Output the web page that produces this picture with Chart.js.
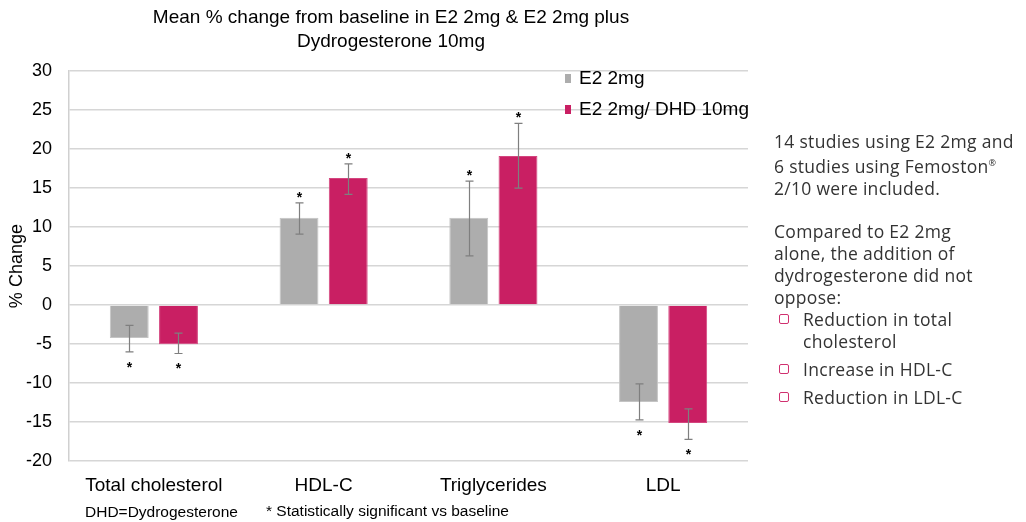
<!DOCTYPE html>
<html>
<head>
<meta charset="utf-8">
<script src="https://cdn.jsdelivr.net/npm/chart.js@4.4.1/dist/chart.umd.min.js"></script>
<style>
    body { margin: 0; background: #fff; }
    #wrap { position: relative; width: 1026px; height: 522px; overflow: hidden; }
    #chart { position: absolute; left: 0; top: 0; }
    .side { position: absolute; left: 774px; top: 130px; width: 260px; font-family: "Open Sans", sans-serif; font-size: 17.5px; letter-spacing: 0.3px; line-height: 22px; color: #333; white-space: nowrap; }
    .side p { margin: 0 0 21px 0; }
    .side ul { list-style: none; margin: -21px 0 0 0; padding: 0; }
    .side li { position: relative; padding-left: 29px; margin-bottom: 6px; }
    .side .box { position: absolute; left: 5px; top: 6px; width: 8px; height: 8px; border: 1.6px solid #d0306f; border-radius: 2px; }
    .note { position: absolute; top: 502px; font-family: "Liberation Sans", Arial, sans-serif; font-size: 15.5px; color: #000; }
</style>
</head>
<body>
<div id="wrap">
    <canvas id="chart" width="782" height="522"></canvas>
    <div class="side">
        <p>14 studies using E2 2mg and<br>6 studies using Femoston<sup style="font-size:9px">®</sup><br>2/10 were included.</p>
        <p>Compared to E2 2mg<br>alone, the addition of<br>dydrogesterone did not<br>oppose:</p>
        <ul>
            <li><span class="box"></span>Reduction in total<br>cholesterol</li>
            <li><span class="box"></span>Increase in HDL-C</li>
            <li><span class="box"></span>Reduction in LDL-C</li>
        </ul>
    </div>
    <div class="note" style="left:85px; top:503px">DHD=Dydrogesterone</div>
    <div class="note" style="left:266px">* Statistically significant vs baseline</div>
</div>
<script>
// Chart data
const categories = ["Total cholesterol", "HDL-C", "Triglycerides", "LDL"];
const seriesNames = ["E2 2mg", "E2 2mg/ DHD 10mg"];
const e2Values = [-4.2, 11.2, 11.2, -12.4];
const dhdValues = [-5.0, 16.3, 19.1, -15.1];
const e2ErrLow = [-6.0, 9.1, 6.3, -14.7];
const e2ErrHigh = [-2.6, 13.1, 15.9, -10.1];
const dhdErrLow = [-6.2, 14.2, 15.0, -17.2];
const dhdErrHigh = [-3.6, 18.1, 23.3, -13.3];
const yMin = -20, yMax = 30, yStep = 5;

const errLows = [e2ErrLow, dhdErrLow];
const errHighs = [e2ErrHigh, dhdErrHigh];

// error bars + significance stars
const errorBarPlugin = {
    id: "errorBars",
    afterDatasetsDraw(chart) {
        const ctx = chart.ctx;
        const y = chart.scales.y;
        ctx.save();
        chart.data.datasets.forEach((ds, di) => {
            const meta = chart.getDatasetMeta(di);
            meta.data.forEach((bar, i) => {
                const x = Math.round(bar.x) + 0.5;
                const lo = y.getPixelForValue(errLows[di][i]);
                const hi = y.getPixelForValue(errHighs[di][i]);
                ctx.strokeStyle = "#7f7f7f";
                ctx.lineWidth = 1.2;
                ctx.beginPath();
                ctx.moveTo(x, lo); ctx.lineTo(x, hi);
                ctx.moveTo(x - 4, lo); ctx.lineTo(x + 4, lo);
                ctx.moveTo(x - 4, hi); ctx.lineTo(x + 4, hi);
                ctx.stroke();
                ctx.fillStyle = "#000";
                ctx.font = "bold 14px 'Liberation Sans', Arial";
                ctx.textAlign = "center";
                ctx.textBaseline = "middle";
                const starY = ds.data[i] >= 0 ? hi - 5 : lo + 16;
                ctx.fillText("*", x, starY);
            });
        });
        ctx.restore();
    }
};

// legend drawn inside the plot area, top right
const innerLegendPlugin = {
    id: "innerLegend",
    afterDraw(chart) {
        const ctx = chart.ctx;
        const area = chart.chartArea;
        ctx.save();
        ctx.font = "19px 'Liberation Sans', Arial";
        ctx.textBaseline = "middle";
        ctx.textAlign = "left";
        chart.data.datasets.forEach((ds, di) => {
            const ly = area.top + 8 + di * 31;
            const lx = area.right - 183;
            ctx.fillStyle = ds.backgroundColor;
            ctx.fillRect(lx, ly - 5, 6, 9);
            ctx.fillStyle = "#000";
            ctx.fillText(ds.label, lx + 14, ly);
        });
        ctx.restore();
    }
};

new Chart(document.getElementById("chart").getContext("2d"), {
    type: "bar",
    data: {
        labels: categories,
        datasets: [
            { label: seriesNames[0], data: e2Values, backgroundColor: "#adadad", borderColor: "#c4c4c4", borderWidth: 1 },
            { label: seriesNames[1], data: dhdValues, backgroundColor: "#c91f63", borderColor: "#d4457f", borderWidth: 1 }
        ]
    },
    options: {
        responsive: false,
        animation: false,
        categoryPercentage: 0.58,
        barPercentage: 0.79,
        layout: { padding: { left: 0, right: 0, top: 0, bottom: 12 } },
        plugins: {
            legend: { display: false },
            tooltip: { enabled: false },
            title: {
                display: true,
                text: ["Mean % change from baseline in E2 2mg & E2 2mg plus", "Dydrogesterone 10mg"],
                color: "#000",
                font: { family: "'Liberation Sans', Arial", size: 19, weight: "normal", lineHeight: 1.263 },
                padding: { top: 6, bottom: 17 }
            }
        },
        scales: {
            x: {
                grid: { display: false, drawTicks: false },
                border: { display: false },
                ticks: { color: "#000", padding: 13, font: { family: "'Liberation Sans', Arial", size: 19 } }
            },
            y: {
                min: yMin,
                max: yMax,
                afterFit(scale) { scale.width = 69; },
                ticks: { stepSize: yStep, color: "#000", padding: 17, font: { family: "'Liberation Sans', Arial", size: 18 } },
                grid: { color: "#d6d6d6", lineWidth: 1.5, drawTicks: false },
                border: { display: true, color: "#d0d0d0", width: 1.5 },
                title: { display: true, text: "% Change", color: "#000", padding: { top: 6, bottom: 0 }, font: { family: "'Liberation Sans', Arial", size: 18 } }
            },
            // empty right axis, only reserves room so the title centres like the original
            y2: {
                position: "right",
                afterFit(scale) { scale.width = 34; },
                ticks: { display: false },
                grid: { display: false, drawTicks: false },
                border: { display: false }
            }
        }
    },
    plugins: [errorBarPlugin, innerLegendPlugin]
});
</script>
</body>
</html>
